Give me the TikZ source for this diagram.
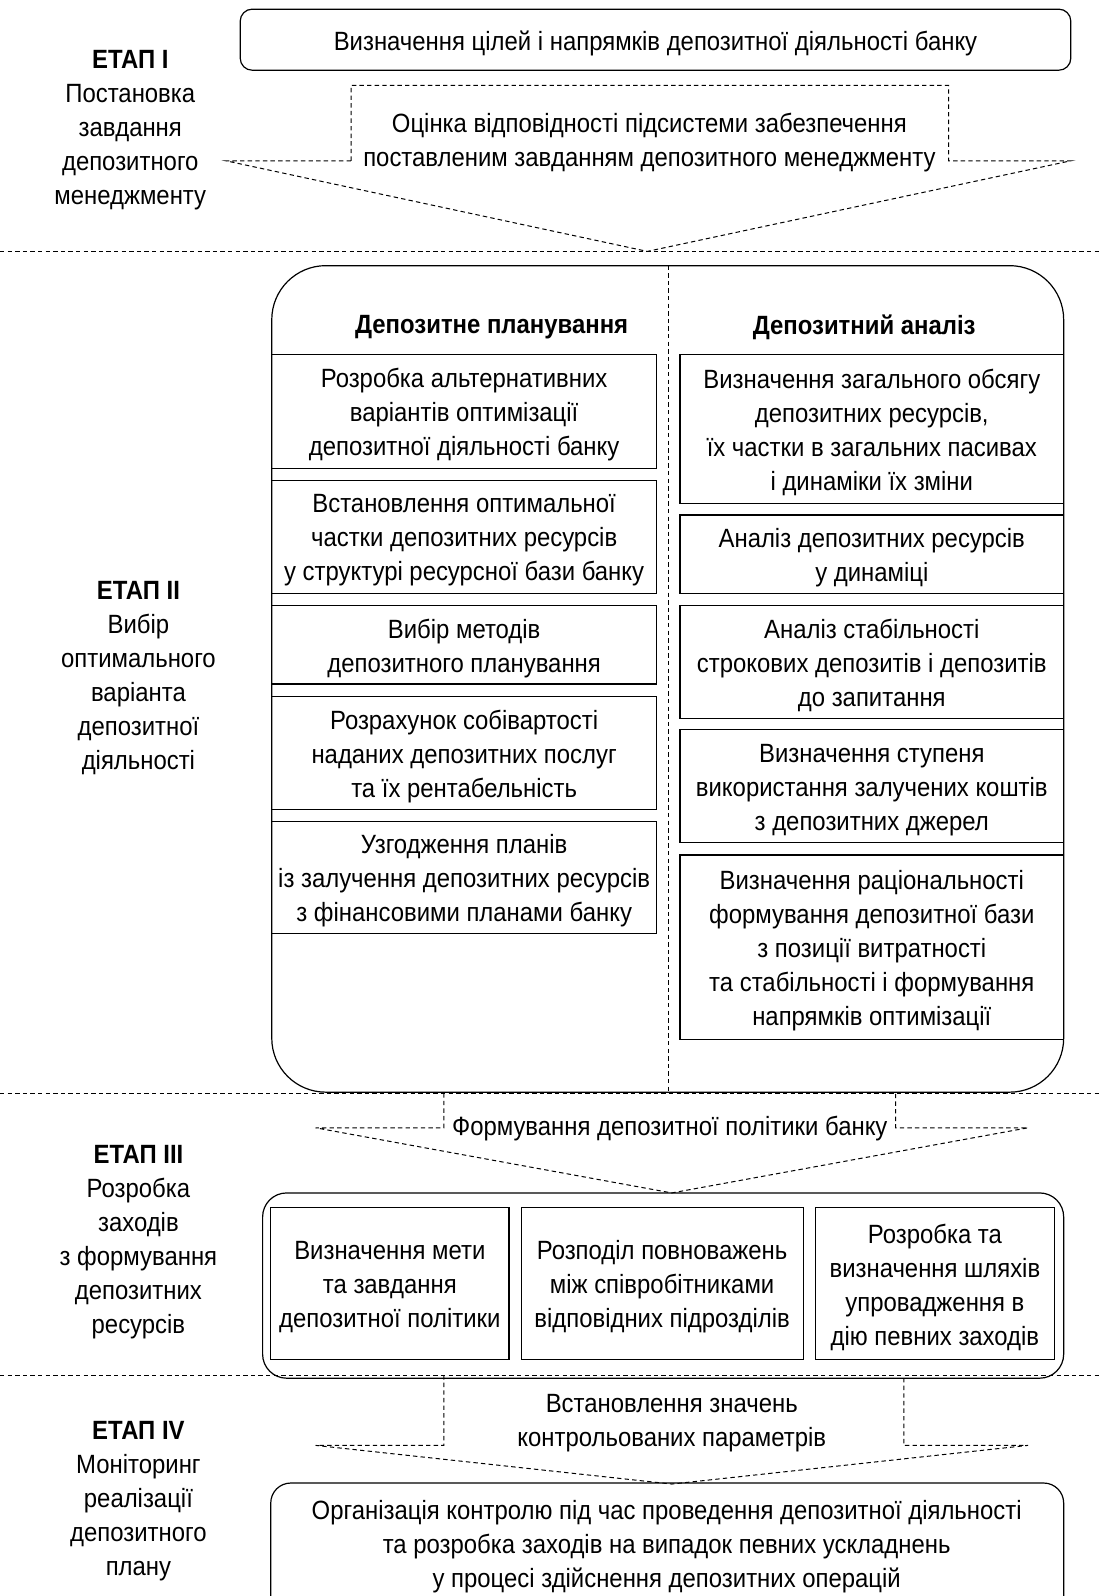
\documentclass[tikz,border=0pt]{standalone}
\usepackage{fontspec}
\setmainfont{Liberation Sans}[FakeStretch=0.905]
\begin{document}
\begin{tikzpicture}[x=0.5088pt,y=-0.5088pt,
  font=\fontsize{13.2}{17}\selectfont,
  lbl/.style={align=center, inner sep=0pt, yshift=-1.8pt},
  box/.style={draw, line width=0.6pt, inner sep=0pt},
  tx/.style={label={[lbl]center:{#1}}},
  dsh/.style={dash pattern=on 2.2pt off 1.6pt, line width=0.5pt},
  sz/.style 2 args={minimum width=#1*0.5088pt, minimum height=#2*0.5088pt}]
\useasboundingbox (0,0) rectangle (1080,1568);
\clip (0,0) rectangle (1080,1568);

% ---- stage labels
\node[lbl] (s1) at (128,124.5) {\textbf{ЕТАП I}\\Постановка\\завдання\\депозитного\\менеджменту};
\node[lbl] (s2) at (136,662.5) {\textbf{ЕТАП II}\\Вибір\\оптимального\\варіанта\\депозитної\\діяльності};
\node[lbl] (s3) at (136,1216.5) {\textbf{ЕТАП III}\\Розробка\\заходів\\з формування\\депозитних\\ресурсів};
\node[lbl] (s4) at (136,1471) {\textbf{ЕТАП IV}\\Моніторинг\\реалізації\\депозитного\\плану};

% ---- separators
\draw[dsh] (0,247) -- (1080,247);
\draw[dsh] (0,1074) -- (1080,1074);
\draw[dsh] (0,1351) -- (1080,1351);

% ---- stage I
\node[box, rounded corners=6pt, sz={816}{60}, tx={Визначення цілей і напрямків депозитної діяльності банку}] (t1) at (644,39) {};
\draw[dsh] (345,158) -- (345,84) -- (932,84) -- (932,158) -- (1052,158) -- (636,247) -- (222,158) -- cycle;
\node[lbl] (a1) at (638,136.5) {Оцінка відповідності підсистеми забезпечення\\поставленим завданням депозитного менеджменту};

% ---- stage II
\node[box, rounded corners=27pt, sz={778}{812}] (big) at (656,667) {};
\draw[dsh] (657,261) -- (657,1073);
\node[lbl, font=\fontsize{13.2}{17}\selectfont\bfseries] (hp) at (483,318) {Депозитне планування};
\node[lbl, font=\fontsize{13.2}{17}\selectfont\bfseries] (ha) at (849,318) {Депозитний аналіз};

\node[box, sz={378}{112}, tx={Розробка альтернативних\\варіантів оптимізації\\депозитної діяльності банку}] (l1) at (456,404) {};
\node[box, sz={378}{111}, tx={Встановлення оптимальної\\частки депозитних ресурсів\\у структурі ресурсної бази банку}] (l2) at (456,527.5) {};
\node[box, sz={378}{77}, tx={Вибір методів\\депозитного планування}] (l3) at (456,633.5) {};
\node[box, sz={378}{111}, tx={Розрахунок собівартості\\наданих депозитних послуг\\та їх рентабельність}] (l4) at (456,739.5) {};
\node[box, sz={378}{110}, tx={Узгодження планів\\із залучення депозитних ресурсів\\з фінансовими планами банку}] (l5) at (456,862) {};

\node[box, sz={377}{147}, tx={Визначення загального обсягу\\депозитних ресурсів,\\їх частки в загальних пасивах\\і динаміки їх зміни}] (r1) at (856.5,421.5) {};
\node[box, sz={377}{77}, tx={Аналіз депозитних ресурсів\\у динаміці}] (r2) at (856.5,544.5) {};
\node[box, sz={377}{111}, tx={Аналіз стабільності\\строкових депозитів і депозитів\\до запитання}] (r3) at (856.5,650.5) {};
\node[box, sz={377}{111}, tx={Визначення ступеня\\використання залучених коштів\\з депозитних джерел}] (r4) at (856.5,772.5) {};
\node[box, sz={377}{181}, tx={Визначення раціональності\\формування депозитної бази\\з позиції витратності\\та стабільності і формування\\напрямків оптимізації}] (r5) at (856.5,930.5) {};

% ---- stage III
\draw[dsh] (436,1074) -- (436,1108) -- (310,1108) -- (660,1172) -- (1010,1108) -- (880,1108) -- (880,1074);
\node[lbl] (a3) at (658,1105) {Формування депозитної політики банку};
\node[box, rounded corners=12pt, sz={787}{182}] (m3) at (651.5,1263) {};
\node[box, sz={234}{150}, tx={Визначення мети\\та завдання\\депозитної політики}] (b1) at (383,1261) {};
\node[box, sz={277}{150}, tx={Розподіл повноважень\\між співробітниками\\відповідних підрозділів}] (b2) at (650.5,1261) {};
\node[box, sz={235}{150}, tx={Розробка та\\визначення шляхів\\упровадження в\\дію певних заходів}] (b3) at (918.5,1261) {};

% ---- stage IV
\draw[dsh] (436,1351) -- (436,1420) -- (310,1420) -- (660,1458) -- (1010,1420) -- (888,1420) -- (888,1351);
\node[lbl] (a4) at (660,1395) {Встановлення значень\\контрольованих параметрів};
\node[box, rounded corners=10pt, sz={779}{133}] (m4) at (655.5,1523.5) {};
\node[lbl] (m4t) at (655,1516) {Організація контролю під час проведення депозитної діяльності\\та розробка заходів на випадок певних ускладнень\\у процесі здійснення депозитних операцій};
\end{tikzpicture}
\end{document}
